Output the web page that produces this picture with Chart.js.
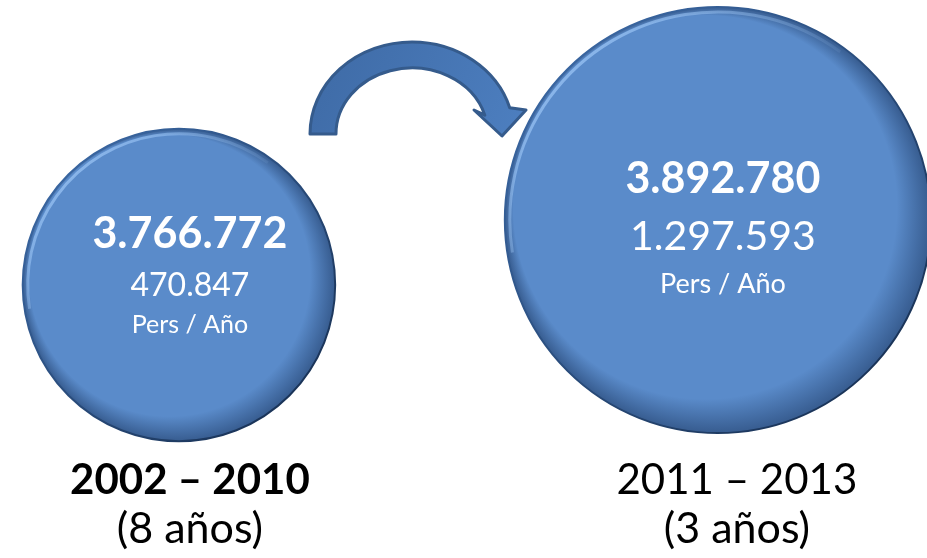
<!DOCTYPE html>
<html>
<head>
<meta charset="utf-8">
<script src="https://cdn.jsdelivr.net/npm/chart.js@4.4.1/dist/chart.umd.min.js"></script>
<style>
  html, body { margin: 0; padding: 0; background: #fff; }
  #wrap { width: 927px; height: 558px; position: relative; }
</style>
</head>
<body>
<div id="wrap"><canvas id="growthChart"></canvas></div>
<script>
// Periods and values
const periods = ["2002 – 2010", "2011 – 2013"];
const durations = ["(8 años)", "(3 años)"];
const totals = ["3.766.772", "3.892.780"];
const perYear = [470847, 1297593];
const perYearLabels = ["470.847", "1.297.593"];
const unitLabel = "Pers / Año";

const FONT = "Lato, 'Open Sans', sans-serif";

// bubble size grows with the yearly rate
const radiusFor = v => 2.87 * Math.pow(v, 0.306);

// bevel + outline on each bubble
const bubbleShade = {
    id: "bubbleShade",
    afterDatasetsDraw(chart) {
        const ctx = chart.ctx;
        chart.getDatasetMeta(0).data.forEach((el) => {
            const r = el.options.radius;
            ctx.save();
            ctx.beginPath();
            ctx.arc(el.x, el.y, r, 0, Math.PI * 2);
            ctx.clip();
            // dark rim on lower right
            let g = ctx.createRadialGradient(el.x - r * 0.06, el.y - r * 0.06, r * 0.9, el.x, el.y, r);
            g.addColorStop(0, "rgba(20,45,85,0)");
            g.addColorStop(1, "rgba(20,45,85,0.5)");
            ctx.fillStyle = g;
            ctx.fillRect(el.x - r, el.y - r, r * 2, r * 2);
            // light band on upper left
            ctx.beginPath();
            ctx.arc(el.x, el.y, r - 5, Math.PI * 0.95, Math.PI * 1.7);
            const lg = ctx.createLinearGradient(el.x - r, el.y - r, el.x, el.y);
            lg.addColorStop(0, "rgba(170,210,255,0.85)");
            lg.addColorStop(1, "rgba(170,210,255,0)");
            ctx.strokeStyle = lg;
            ctx.lineWidth = 3;
            ctx.stroke();
            ctx.restore();

            ctx.save();
            ctx.beginPath();
            ctx.arc(el.x, el.y, r, 0, Math.PI * 2);
            const og = ctx.createLinearGradient(el.x - r, el.y - r, el.x + r, el.y + r);
            og.addColorStop(0, "#3f6fae");
            og.addColorStop(1, "#142a4a");
            ctx.strokeStyle = og;
            ctx.lineWidth = 2;
            ctx.stroke();
            ctx.restore();
        });
    }
};

// texts inside and under the bubbles
const bubbleText = {
    id: "bubbleText",
    afterDraw(chart) {
        const ctx = chart.ctx;
        const inner = [
            { dx: 11, dy: [-37, 11, 48], size: [43, 32, 25] },
            { dx: 5, dy: [-27, 30, 73], size: [43, 41, 27] }
        ];
        chart.getDatasetMeta(0).data.forEach((el, i) => {
            const t = inner[i];
            const tx = el.x + t.dx;
            ctx.save();
            ctx.textAlign = "center";
            ctx.textBaseline = "alphabetic";
            ctx.fillStyle = "#ffffff";
            ctx.font = "bold " + t.size[0] + "px " + FONT;
            ctx.fillText(totals[i], tx, el.y + t.dy[0]);
            ctx.font = t.size[1] + "px " + FONT;
            ctx.fillText(perYearLabels[i], tx, el.y + t.dy[1]);
            ctx.font = t.size[2] + "px " + FONT;
            ctx.fillText(unitLabel, tx, el.y + t.dy[2]);

            const cx = i === 0 ? el.x + 11 : el.x + 19;
            ctx.fillStyle = "#000000";
            ctx.font = (i === 0 ? "bold " : "") + "42px " + FONT;
            ctx.fillText(periods[i], cx, 494);
            ctx.font = "43px " + FONT;
            ctx.fillText(durations[i], cx, 543);
            ctx.restore();
        });
    }
};

// curved arrow between the two periods
const curvedArrow = {
    id: "curvedArrow",
    afterDatasetsDraw(chart) {
        const ctx = chart.ctx;
        const cx = 412, cy = 134;
        const end = Math.PI * 2 - 0.29;
        ctx.save();
        ctx.beginPath();
        ctx.moveTo(310, cy);
        ctx.ellipse(cx, cy, 102, 92, 0, Math.PI, end);
        ctx.lineTo(526, 110);
        ctx.lineTo(502, 136);
        ctx.lineTo(474, 110);
        ctx.lineTo(cx + 76 * Math.cos(end), cy + 66 * Math.sin(end));
        ctx.ellipse(cx, cy, 76, 66, 0, end, Math.PI, true);
        ctx.closePath();
        const g = ctx.createLinearGradient(310, 40, 526, 136);
        g.addColorStop(0, "#3e6aa5");
        g.addColorStop(1, "#4d7fc0");
        ctx.fillStyle = g;
        ctx.fill();
        ctx.strokeStyle = "#355b8c";
        ctx.lineWidth = 3;
        ctx.lineJoin = "round";
        ctx.stroke();
        ctx.restore();
    }
};

const config = {
    type: "bubble",
    data: {
        datasets: [
            {
                data: perYear.map((v, i) => ({ x: i, y: v })),
                backgroundColor: "#5a8bca",
                borderWidth: 0,
                radius: (c) => radiusFor(perYear[c.dataIndex]),
                hoverRadius: 0,
                clip: false,
            },
        ],
    },
    options: {
        responsive: true,
        maintainAspectRatio: false,
        animation: false,
        layout: { padding: 0, autoPadding: false },
        plugins: {
            legend: { display: false },
            tooltip: { enabled: false },
        },
        scales: {
            x: { type: "linear", display: false, min: -0.332, max: 1.388 },
            y: { type: "linear", display: false, min: -3001171, max: 4095479 },
        },
    },
    plugins: [bubbleShade, curvedArrow, bubbleText],
};

const ctx = document.getElementById("growthChart").getContext("2d");
const growthChart = new Chart(ctx, config);
</script>
</body>
</html>
